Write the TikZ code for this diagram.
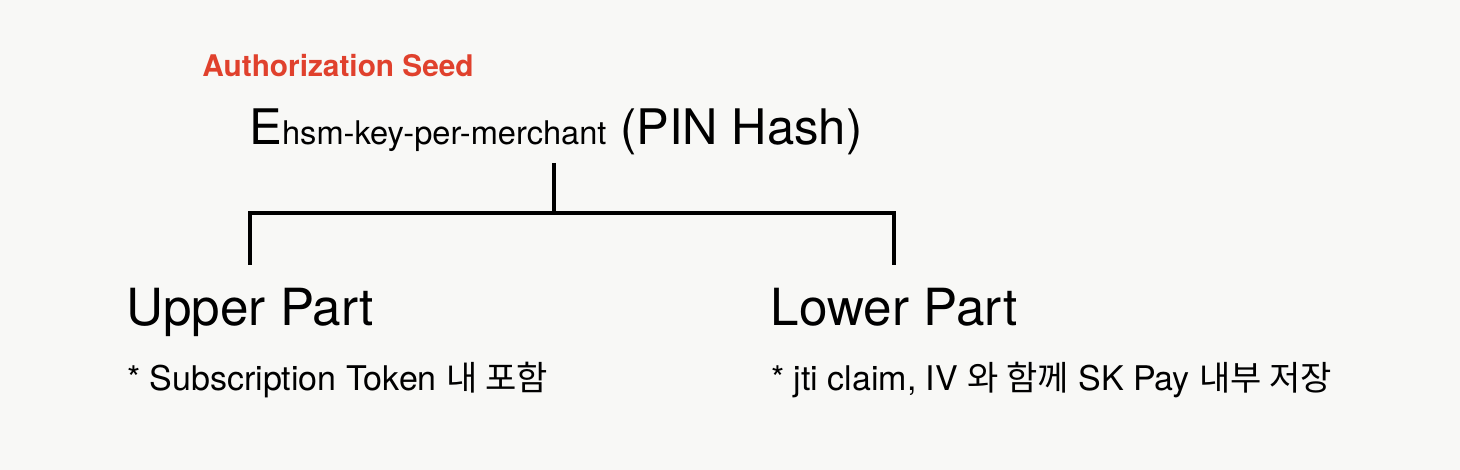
\documentclass[tikz,border=0pt]{standalone}
\usepackage{fontspec}
\setmainfont{TeX Gyre Heros}
\newfontfamily\kr{Noto Sans CJK KR}
\usepackage{tikz}
\usetikzlibrary{positioning, calc}
\definecolor{bgpaper}{HTML}{F8F8F6}
\definecolor{seedred}{HTML}{E0412D}

\begin{document}
\begin{tikzpicture}[x=0.5pt, y=-0.5pt,
		part/.style={anchor=base, inner sep=0, outer sep=0, font=\fontsize{25.6}{30}\selectfont},
		note/.style={anchor=base west, inner sep=0, outer sep=0, font=\fontsize{17}{20}\selectfont},
		branch/.style={line width=2pt}]
			\fill[bgpaper] (0,0) rectangle (1460,470);
			\node (seed) [anchor=base west, inner sep=0, color=seedred, font=\bfseries\fontsize{14.9}{17}\selectfont] at (202,77) {Authorization Seed};
			\node (key) [anchor=base west, inner sep=0, font=\fontsize{24.5}{29}\selectfont] at (249,145) {E{\fontsize{16.3}{20}\selectfont hsm-key-per-merchant} (PIN Hash)};
			\node (upper) [part] at (250,325) {Upper Part};
			\node (lower) [part] at (894,325) {Lower Part};
			\node (n1) [note] at (127,390) {* Subscription Token {\kr 내 포함}};
			\node (n2) [note] at (771,390) {* jti claim, IV {\kr 와 함께} SK Pay {\kr 내부 저장}};
			
			\coordinate (fork) at (554,213);
			\draw [branch, shorten <=3.5pt] (fork |- key.south) -- (fork);
			\draw [branch, shorten <=11.5pt, shorten >=11.5pt] (upper.north) |- (fork) -| (lower.north);
		\end{tikzpicture}
\end{document}
